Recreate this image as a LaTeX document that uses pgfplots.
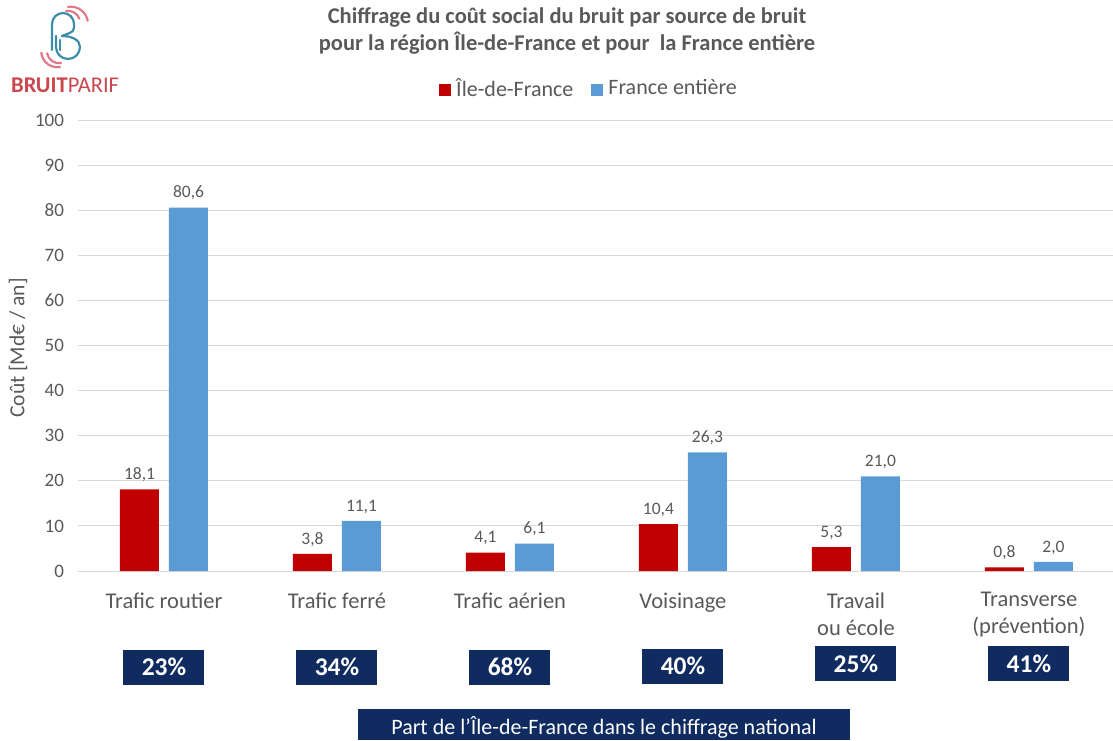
\documentclass[border=0pt]{standalone}
\usepackage{fontspec}
\setmainfont{Carlito}
\usepackage{pgfplots}
\pgfplotsset{compat=1.18}
\definecolor{barred}{HTML}{C00000}
\definecolor{barblue}{HTML}{5B9BD5}
\definecolor{navy}{HTML}{0F2B5F}
\definecolor{txtgray}{HTML}{595959}
\definecolor{gridgray}{HTML}{D9D9D9}
\definecolor{logored}{HTML}{C9474D}
\definecolor{logoteal}{HTML}{3C8DA8}
\definecolor{logopink}{HTML}{E07A86}
\begin{document}
\begin{tikzpicture}
\useasboundingbox (0pt,0pt) rectangle (1113pt,-740pt);
% logo
\begin{scope}[line width=2.2pt, line cap=round]
\draw[logoteal] (52pt,-50pt) -- (52pt,-24pt) arc[start angle=180, end angle=0, radius=11pt] -- (74pt,-28pt) .. controls (74pt,-33pt) and (66pt,-34pt) .. (62pt,-36pt);
\draw[logoteal] (62pt,-36pt) .. controls (72pt,-36pt) and (80pt,-40pt) .. (80pt,-47pt) arc[start angle=0, end angle=-180, radius=12pt] -- (56pt,-36pt);
\draw[logoteal] (60pt,-50pt) -- (60pt,-40pt);
\draw[logopink] (66pt,-11pt) arc[start angle=100, end angle=20, radius=12pt];
\draw[logopink] (68pt,-7pt) arc[start angle=100, end angle=10, radius=17pt];
\draw[logopink] (61pt,-63pt) arc[start angle=-80, end angle=-170, radius=12pt];
\draw[logopink] (60pt,-67pt) arc[start angle=-80, end angle=-175, radius=16pt];
\end{scope}
\node[anchor=west, inner sep=0pt, text=logored, font=\fontsize{22.5}{24}\selectfont] at (11pt,-85pt) {\textbf{BRUIT}PARIF};
% title
\node[font=\bfseries\fontsize{22.5}{27}\selectfont, text=txtgray, align=center] at (567pt,-31pt) {Chiffrage du coût social du bruit par source de bruit\\pour la région Île-de-France et pour\ \ la France entière};
% y label
\node[rotate=90, text=txtgray, font=\fontsize{21.5}{24}\selectfont] at (18pt,-348pt) {Coût [Md€ / an]};
\begin{axis}[
  at={(77.5pt,-571pt)}, anchor=south west,
  scale only axis, width=1035.5pt, height=451pt,
  xmin=-0.5, xmax=5.486, ymin=0, ymax=100,
  ybar=10pt, bar width=39pt,
  ytick={0,10,...,100}, xtick={0,...,5},
  xticklabels={Trafic routier, Trafic ferré, Trafic aérien, Voisinage, {Travail\\ou école}, {Transverse\\(prévention)}},
  xticklabel style={align=center, font=\fontsize{22.5}{27}\selectfont, text=txtgray, anchor=north, yshift=-18pt},
  yticklabel style={font=\fontsize{19}{22}\selectfont, text=txtgray, xshift=-10pt},
  /pgf/number format/assume math mode=true,
  axis line style={draw=none},
  major tick length=0pt,
  ymajorgrids, grid style={gridgray, line width=1pt},
  clip=false,
  nodes near coords,
  every node near coord/.append style={font=\fontsize{17.5}{20}\selectfont, text=txtgray, yshift=4pt,
     /pgf/number format/fixed, /pgf/number format/fixed zerofill, /pgf/number format/precision=1,
     /pgf/number format/use comma, /pgf/number format/assume math mode=true},
  legend style={at={(0.494,1.071)}, anchor=center, draw=none, fill=none, legend columns=2,
     font=\fontsize{22}{24}\selectfont, nodes={text=txtgray},
     /tikz/every even column/.append style={column sep=16pt}},
  legend image code/.code={\fill[#1] (0pt,-8pt) rectangle (12pt,4pt); \path (15pt,0pt);},
]
\addplot[fill=barred, draw=none] coordinates {(0,18.1) (1,3.8) (2,4.1) (3,10.4) (4,5.3) (5,0.8)};
\addplot[fill=barblue, draw=none] coordinates {(0,80.6) (1,11.1) (2,6.1) (3,26.3) (4,21.0) (5,2.0)};
\legend{Île-de-France, France entière}
\tikzset{pct/.style={fill=navy, text=white, font=\bfseries\fontsize{25.5}{28}\selectfont, minimum width=81pt, minimum height=35pt, inner sep=0pt}}
\node[pct] at (axis cs:0,-21.3) {23\%};
\node[pct] at (axis cs:1,-21.3) {34\%};
\node[pct] at (axis cs:2,-21.3) {68\%};
\node[pct] at (axis cs:3,-21.1) {40\%};
\node[pct] at (axis cs:4,-20.5) {25\%};
\node[pct] at (axis cs:5,-20.5) {41\%};
\end{axis}
\fill[navy] (358pt,-709pt) rectangle (850pt,-740pt);
\node[text=white, font=\fontsize{22}{24}\selectfont] at (604pt,-727pt) {Part de l'Île-de-France dans le chiffrage national};
\end{tikzpicture}
\end{document}
